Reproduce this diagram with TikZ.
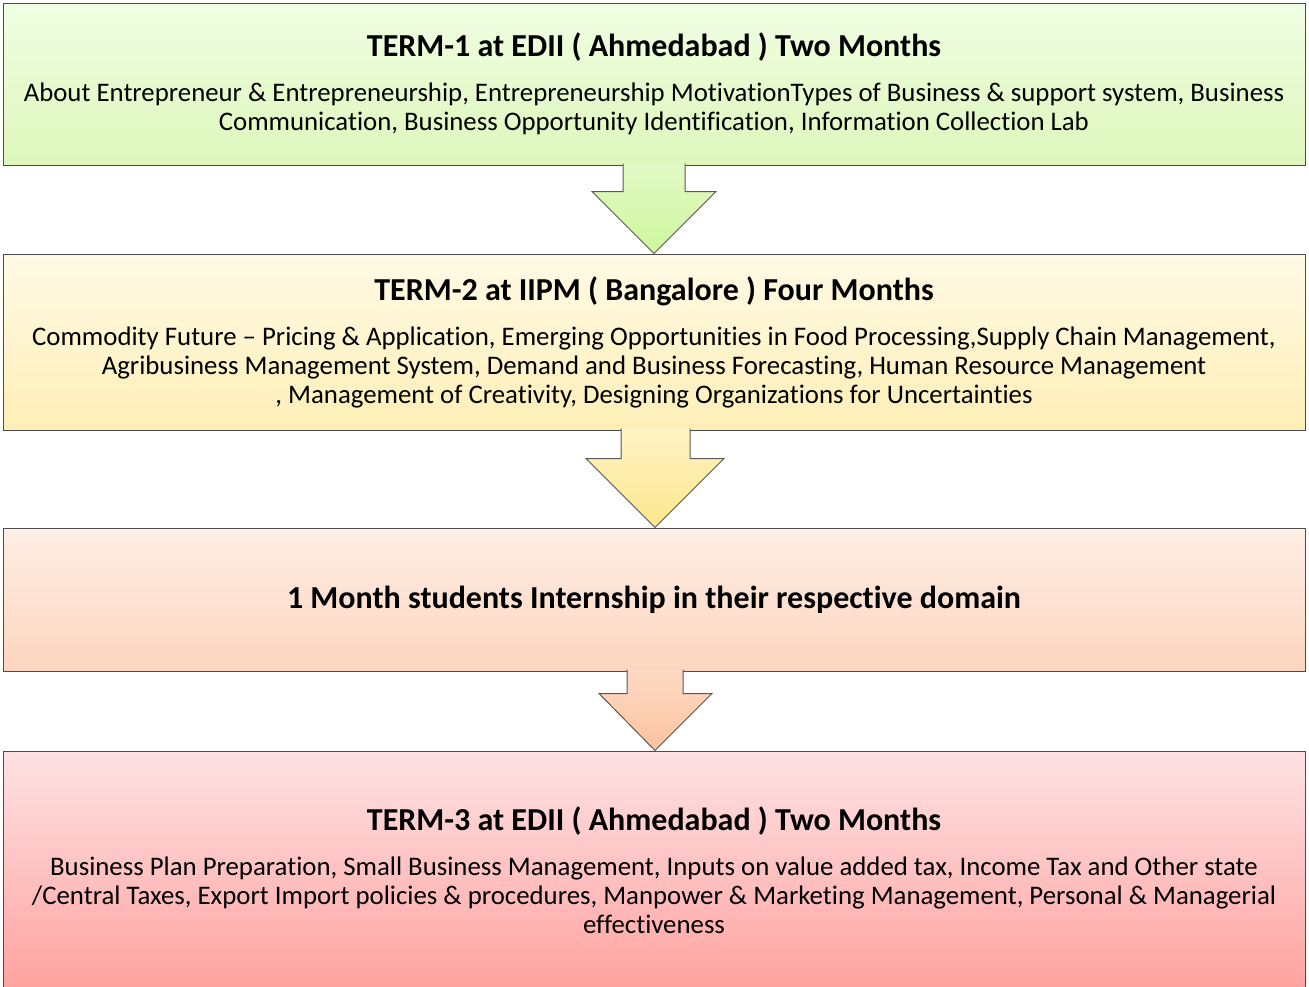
\documentclass[tikz,border=0pt]{standalone}
\usepackage{fontspec}
\setmainfont{Carlito}[Ligatures=NoCommon]
\usepackage{tikz}
\usetikzlibrary{calc}

\definecolor{termAtop}{HTML}{F1FEE3}
\definecolor{termAbot}{HTML}{DDF7BB}
\definecolor{arrowAtop}{HTML}{E2F9C6}
\definecolor{arrowAbot}{HTML}{CEF79C}
\definecolor{termBtop}{HTML}{FFFAE6}
\definecolor{termBbot}{HTML}{FEEFB6}
\definecolor{arrowBtop}{HTML}{FEF3C4}
\definecolor{arrowBbot}{HTML}{FDE88C}
\definecolor{internTop}{HTML}{FEEEE5}
\definecolor{internBot}{HTML}{FCD5BF}
\definecolor{arrowCtop}{HTML}{FDD9C4}
\definecolor{arrowCbot}{HTML}{FCC39E}
\definecolor{termCtop}{HTML}{FEE2E4}
\definecolor{termCbot}{HTML}{FFA2A0}

\newcommand{\termtitle}[1]{{\bfseries\fontsize{32}{31}\selectfont #1}}

\begin{document}
\begin{tikzpicture}[x=1pt,y=-1pt,
	termbox/.style={draw=black!70, line width=1pt, minimum width=1302pt, inner sep=0pt, align=center, font=\fontsize{26.8}{29}\selectfont},
	arrowline/.style={draw=black!65, line width=1pt, line join=miter}]
	\useasboundingbox (0,0) rectangle (1309,986);
	\clip (0,0) rectangle (1309,986);

	% the four stages
	\node[termbox, minimum height=162pt, top color=termAtop, bottom color=termAbot] (term1) at (654,84) {\termtitle{TERM-1 at EDII ( Ahmedabad ) Two Months}\\[16pt]
		About Entrepreneur \& Entrepreneurship, Entrepreneurship MotivationTypes of Business \& support system, Business\\
		Communication, Business Opportunity Identification, Information Collection Lab};
	\node[termbox, minimum height=176pt, top color=termBtop, bottom color=termBbot] (term2) at (654,342) {\termtitle{TERM-2 at IIPM ( Bangalore ) Four Months}\\[16pt]
		Commodity Future -- Pricing \& Application, Emerging Opportunities in Food Processing,Supply Chain Management,\\
		Agribusiness Management System, Demand and Business Forecasting, Human Resource Management\\
		, Management of Creativity, Designing Organizations for Uncertainties};
	\node[termbox, minimum height=143pt, top color=internTop, bottom color=internBot] (intern) at (654,599.5) {\termtitle{1 Month students Internship in their respective domain}};
	\node[termbox, minimum height=239pt, top color=termCtop, bottom color=termCbot] (term3) at (654,870.5) {\termtitle{TERM-3 at EDII ( Ahmedabad ) Two Months}\\[16pt]
		Business Plan Preparation, Small Business Management, Inputs on value added tax, Income Tax and Other state\\
		/Central Taxes, Export Import policies \& procedures, Manpower \& Marketing Management, Personal \& Managerial\\
		effectiveness};

	% block arrows
	\coordinate (a1) at ($(term1.south)+(-31,-2)$);
	\coordinate (a2) at ($(term1.south)+(-31,26)$);
	\coordinate (a3) at ($(term1.south)+(-62,26)$);
	\coordinate (a4) at ($(term1.south)+(62,26)$);
	\coordinate (a5) at ($(term1.south)+(31,26)$);
	\coordinate (a6) at ($(term1.south)+(31,-2)$);
	\shade[top color=arrowAtop, bottom color=arrowAbot] (a1) -- (a2) -- (a3) -- (term2.north) -- (a4) -- (a5) -- (a6) -- cycle;
	\draw[arrowline] (a1) -- (a2) -- (a3) -- (term2.north) -- (a4) -- (a5) -- (a6);

	\coordinate (b1) at ($(term2.south)+(-33,-2)$);
	\coordinate (b2) at ($(term2.south)+(-33,28)$);
	\coordinate (b3) at ($(term2.south)+(-68,28)$);
	\coordinate (b4) at ($(term2.south)+(70,28)$);
	\coordinate (b5) at ($(term2.south)+(36,28)$);
	\coordinate (b6) at ($(term2.south)+(36,-2)$);
	\coordinate (btip) at ($(intern.north)+(1,0)$);
	\shade[top color=arrowBtop, bottom color=arrowBbot] (b1) -- (b2) -- (b3) -- (btip) -- (b4) -- (b5) -- (b6) -- cycle;
	\draw[arrowline] (b1) -- (b2) -- (b3) -- (btip) -- (b4) -- (b5) -- (b6);

	\coordinate (c1) at ($(intern.south)+(-27,-2)$);
	\coordinate (c2) at ($(intern.south)+(-27,22)$);
	\coordinate (c3) at ($(intern.south)+(-55,22)$);
	\coordinate (c4) at ($(intern.south)+(58,22)$);
	\coordinate (c5) at ($(intern.south)+(29,22)$);
	\coordinate (c6) at ($(intern.south)+(29,-2)$);
	\coordinate (ctip) at ($(term3.north)+(1,0)$);
	\shade[top color=arrowCtop, bottom color=arrowCbot] (c1) -- (c2) -- (c3) -- (ctip) -- (c4) -- (c5) -- (c6) -- cycle;
	\draw[arrowline] (c1) -- (c2) -- (c3) -- (ctip) -- (c4) -- (c5) -- (c6);
\end{tikzpicture}
\end{document}
